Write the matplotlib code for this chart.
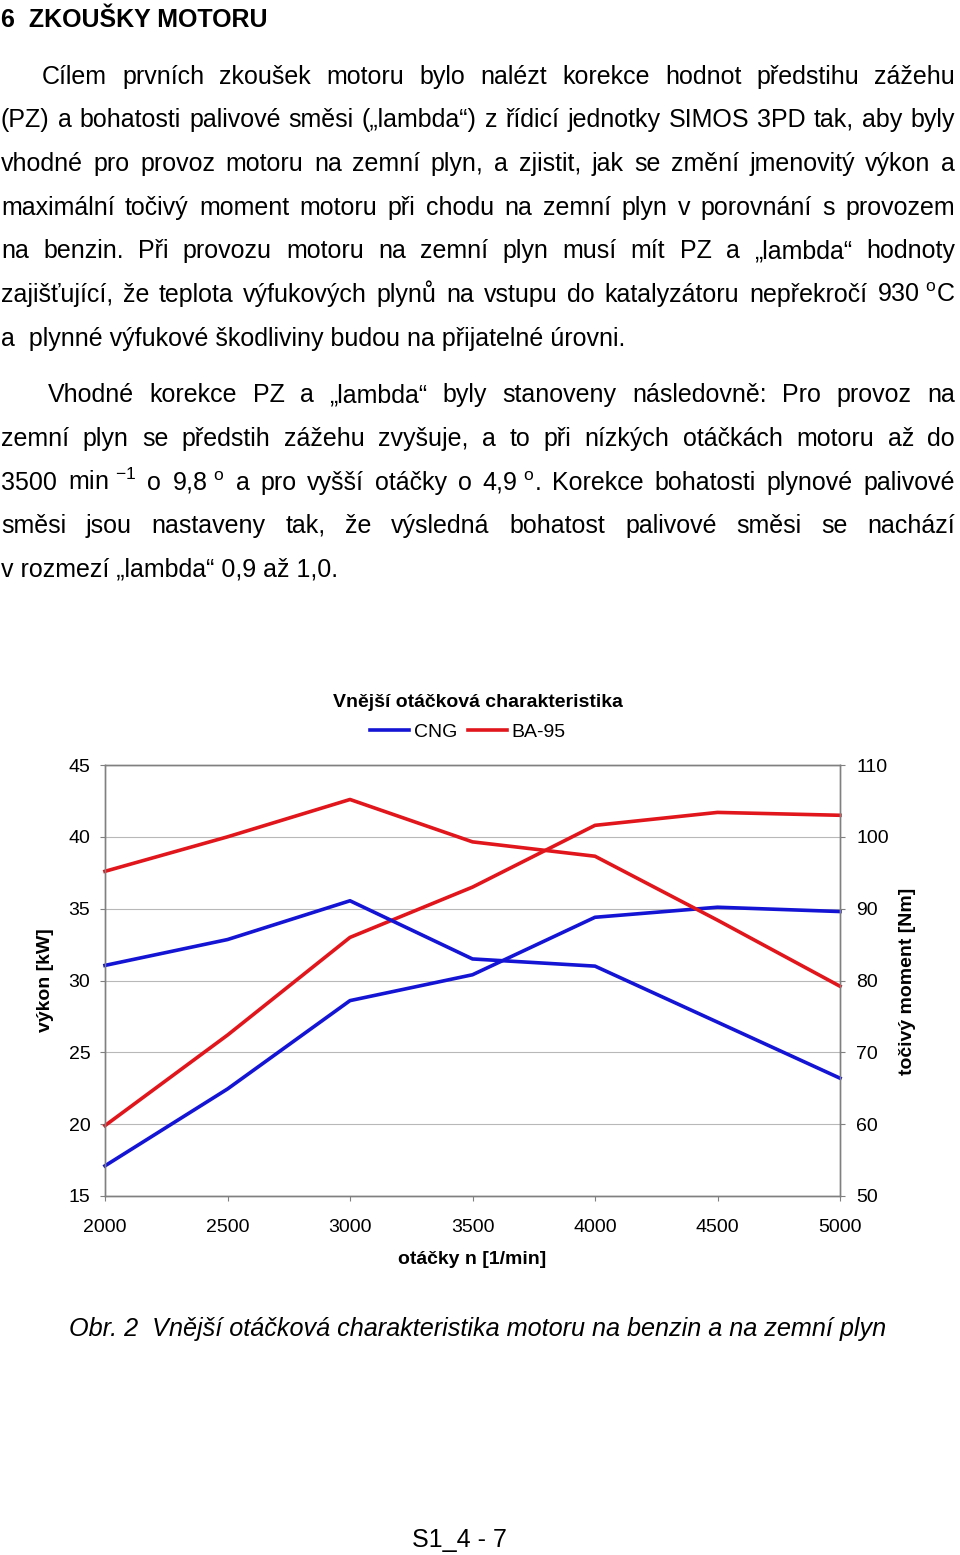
import matplotlib
matplotlib.use('Agg')
import matplotlib.pyplot as plt
from matplotlib.lines import Line2D

plt.rcParams['font.family'] = ['Liberation Sans', 'DejaVu Sans']
plt.rcParams['mathtext.fontset'] = 'custom'
plt.rcParams['mathtext.rm'] = 'Liberation Sans'
plt.rcParams['mathtext.it'] = 'Liberation Sans:italic'
plt.rcParams['mathtext.bf'] = 'Liberation Sans:bold'

# data z grafu
otacky = [2000, 2500, 3000, 3500, 4000, 4500, 5000]
vykon_cng = [17.1, 22.45, 28.6, 30.4, 34.4, 35.1, 34.8]
vykon_ba = [19.9, 26.2, 33.0, 36.5, 40.8, 41.7, 41.5]
moment_cng = [82.1, 85.7, 91.1, 83.0, 82.0, 74.2, 66.4]
moment_ba = [95.2, 100.0, 105.2, 99.3, 97.3, 88.4, 79.2]
vykon_ticks = [15, 20, 25, 30, 35, 40, 45]
moment_ticks = [50, 60, 70, 80, 90, 100, 110]
serie = ['CNG', 'BA-95']

nadpis = '6  ZKOUŠKY MOTORU'
# (text, odsazeni, do bloku)
radky = [
    ('Cílem prvních zkoušek motoru bylo nalézt korekce hodnot předstihu zážehu', 42, True),
    ('(PZ) a bohatosti palivové směsi („lambda“) z řídicí jednotky SIMOS 3PD tak, aby byly', 1, True),
    ('vhodné pro provoz motoru na zemní plyn, a zjistit, jak se změní jmenovitý výkon a', 1, True),
    ('maximální točivý moment motoru při chodu na zemní plyn v porovnání s provozem', 1, True),
    ('na benzin. Při provozu motoru na zemní plyn musí mít PZ a „lambda“ hodnoty', 1, True),
    (r'zajišťující, že teplota výfukových plynů na vstupu do katalyzátoru nepřekročí 930~$^{\mathrm{o}}$C', 1, True),
    ('a  plynné výfukové škodliviny budou na přijatelné úrovni.', 1, False),
    ('Vhodné korekce PZ a „lambda“ byly stanoveny následovně: Pro provoz na', 48, True),
    ('zemní plyn se předstih zážehu zvyšuje, a to při nízkých otáčkách motoru až do', 1, True),
    (r'3500 min~$^{-1}$ o 9,8~$^{\mathrm{o}}$ a pro vyšší otáčky o 4,9~$^{\mathrm{o}}$. Korekce bohatosti plynové palivové', 1, True),
    ('směsi jsou nastaveny tak, že výsledná bohatost palivové směsi se nachází', 1, True),
    ('v rozmezí „lambda“ 0,9 až 1,0.', 1, False),
]
baseline = [84, 127, 171, 215, 258, 302, 346, 402, 446, 490, 533, 577]

popisek = 'Obr. 2  Vnější otáčková charakteristika motoru na benzin a na zemní plyn'
strana = 'S1_4 - 7'

W, H = 960, 1555
modra = '#1414D4'
cervena = '#E0161C'
seda = '#808080'

fig = plt.figure(figsize=(W / 100, H / 100), dpi=100)
rend = fig.canvas.get_renderer()


def sirka(s, **kw):
    t = fig.text(0, 0, s, **kw)
    w = t.get_window_extent(rend).width
    t.remove()
    return w


def radek(s, y, x0=1, x1=955, blok=True, **kw):
    slova = [w.replace('~', ' ') for w in s.split()]
    if not blok:
        fig.text(x0 / W, 1 - y / H, s.replace('~', ' '), va='baseline', **kw)
        return
    sirky = [sirka(w, **kw) for w in slova]
    mezera = (x1 - x0 - sum(sirky)) / (len(slova) - 1)
    x = x0
    for w, sw in zip(slova, sirky):
        fig.text(x / W, 1 - y / H, w, va='baseline', **kw)
        x += sw + mezera


fig.text(1 / W, 1 - 27 / H, nadpis, fontsize=18, fontweight='bold', va='baseline')
for (txt, odsaz, blok), y in zip(radky, baseline):
    radek(txt, y, x0=odsaz, blok=blok, fontsize=18)

# graf
ax = fig.add_axes([105 / W, 1 - 1196 / H, 735 / W, 431 / H])
ax2 = ax.twinx()
ax.plot(otacky, vykon_cng, color=modra, lw=2.6, clip_on=False)
ax.plot(otacky, vykon_ba, color=cervena, lw=2.6, clip_on=False)
ax2.plot(otacky, moment_cng, color=modra, lw=2.6, clip_on=False)
ax2.plot(otacky, moment_ba, color=cervena, lw=2.6, clip_on=False)

ax.set_xlim(2000, 5000)
ax.set_ylim(15, 45)
ax2.set_ylim(50, 110)
ax.set_xticks(otacky)
ax.set_yticks(vykon_ticks)
ax2.set_yticks(moment_ticks)
ax.set_axisbelow(True)
ax.grid(axis='y', color='#b8b8b8', lw=0.8)
for a in (ax, ax2):
    for sp in a.spines.values():
        sp.set_color(seda)
        sp.set_linewidth(1.0)
ax.tick_params(axis='both', direction='out', length=3.6, width=0.8, color=seda, labelsize=14)
ax.tick_params(axis='y', pad=7)
ax.tick_params(axis='x', pad=13)
ax2.tick_params(axis='y', direction='out', length=3.6, width=0.8, color=seda, labelsize=14, pad=8)

fig.text(478 / W, 1 - 702 / H, 'Vnější otáčková charakteristika', ha='center', va='center',
         fontsize=14, fontweight='bold')
h = [Line2D([], [], color=modra, lw=2.6), Line2D([], [], color=cervena, lw=2.6)]
fig.legend(h, serie, loc='center', bbox_to_anchor=(468 / W, 1 - 732 / H), ncol=2, frameon=False,
           fontsize=14, handlelength=2.0, handletextpad=0.25, columnspacing=0.55, borderpad=0)
fig.text(46 / W, 1 - 980 / H, 'výkon [kW]', rotation=90, ha='center', va='center',
         fontsize=14, fontweight='bold')
fig.text(908 / W, 1 - 981 / H, 'točivý moment [Nm]', rotation=90, ha='center', va='center',
         fontsize=14, fontweight='bold')
fig.text(472 / W, 1 - 1259 / H, 'otáčky n [1/min]', ha='center', va='center',
         fontsize=14, fontweight='bold')

fig.text(478 / W, 1 - 1329 / H, popisek, ha='center', va='center', fontsize=18.2, style='italic')
fig.text(459 / W, 1 - 1540 / H, strana, ha='center', va='center', fontsize=18)

fig.savefig('out.png', dpi=100)
